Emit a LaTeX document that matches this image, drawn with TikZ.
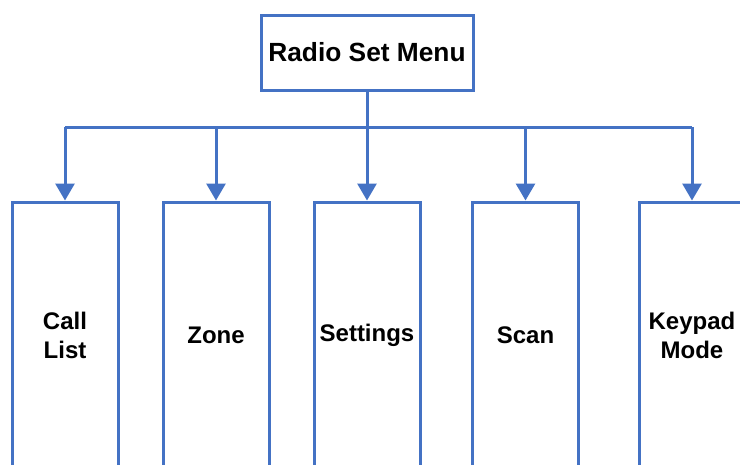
\documentclass[tikz,border=0pt]{standalone}
\usepackage{fontspec}
\setmainfont{Liberation Sans}
\usepackage{xcolor}
\usetikzlibrary{arrows.meta}
\definecolor{boxblue}{RGB}{68,114,196}

\begin{document}
\begin{tikzpicture}[x=1pt,y=-1pt,
  menubox/.style={draw=boxblue,line width=3pt,fill=white,inner sep=0pt,
    minimum width=106pt,minimum height=266pt,align=center,
    font=\fontsize{24}{29}\selectfont\bfseries},
  link/.style={draw=boxblue,line width=3pt},
  tip/.style={link,-{Triangle[length=17pt,width=19pt]}}]
\clip (0,0) rectangle (740,464);
\fill[white] (0,0) rectangle (740,464);

\node[menubox,minimum width=212pt,minimum height=75pt,
  font=\fontsize{26.3}{30}\selectfont\bfseries] (menu) at (367,52.5) {Radio Set Menu};

\node[menubox] (call) at (65,335) {Call\\List};
\node[menubox] (zone) at (216,335) {Zone};
\node[menubox] (settings) at (367,335) {Settings};
\node[menubox] (scan) at (525.5,335) {Scan};
\node[menubox] (keypad) at (692,335) {Keypad\\Mode};

\coordinate (bus) at (366,127);
\draw[link] (menu.south) -- (menu.south |- bus);
\draw[link] (call.north |- bus) -- (keypad.north |- bus);

\draw[tip] (call.north |- bus) -- (call.north);
\draw[tip] (zone.north |- bus) -- (zone.north);
\draw[tip] (settings.north |- bus) -- (settings.north);
\draw[tip] (scan.north |- bus) -- (scan.north);
\draw[tip] (keypad.north |- bus) -- (keypad.north);
\end{tikzpicture}
\end{document}
